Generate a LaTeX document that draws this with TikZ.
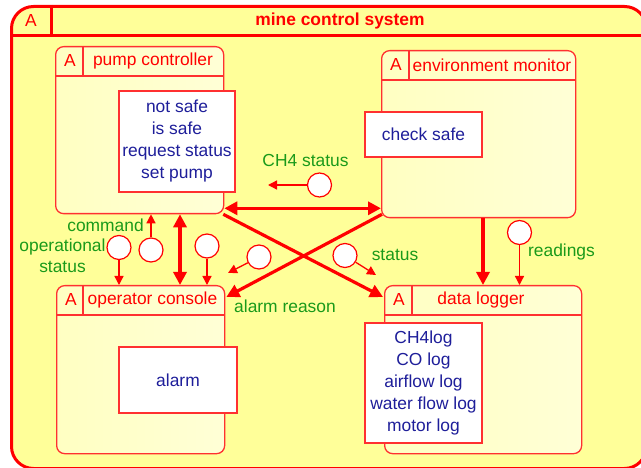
\documentclass[tikz,border=0pt]{standalone}
\usepackage{fontspec}
\setmainfont{Liberation Sans}
\usetikzlibrary{arrows.meta,calc}
\definecolor{mred}{HTML}{FF0000}
\definecolor{bred}{HTML}{FF3030}
\definecolor{outerfill}{HTML}{FFFF99}
\definecolor{innerL}{HTML}{FFFFC2}
\definecolor{innerR}{HTML}{FFFFD6}
\definecolor{tblue}{HTML}{1E1E9A}
\definecolor{tgreen}{HTML}{1A9A1A}
\begin{document}
\begin{tikzpicture}[x=1pt,y=-1pt,
  font=\fontsize{17.4}{22}\selectfont,
  sysframe/.style={draw=mred, line width=3pt, fill=outerfill, rounded corners=22pt, anchor=north west, inner sep=0pt},
  statebox/.style={draw=bred, line width=1.3pt, rounded corners=8pt, left color=innerL, right color=innerR, anchor=north west, inner sep=0pt},
  boxline/.style={draw=bred, line width=1.3pt},
  sysline/.style={draw=mred, line width=3pt},
  titletext/.style={text=mred, inner sep=0pt},
  actbox/.style={draw=bred, line width=1.3pt, fill=white, inner sep=0pt, align=center, text=tblue},
  thickarr/.style={draw=mred, line width=3.2pt},
  thinarr/.style={draw=mred, line width=1.3pt, -{Triangle[length=9pt,width=9pt]}},
  token/.style={circle, draw=mred, line width=1.2pt, fill=white, minimum size=24pt, inner sep=0pt},
  lbl/.style={text=tgreen, inner sep=0pt, align=center, font=\fontsize{17.4}{21}\selectfont}
]
\useasboundingbox (0,0) rectangle (641,468);
\clip (0,0) rectangle (641,468);

% outer frame
\node[sysframe, minimum width=635pt, minimum height=462pt] (sys) at (10,5) {};
\draw[sysline] ($(sys.north west)+(0,31)$) -- ($(sys.north east)+(0,31)$);
\draw[sysline] ($(sys.north west)+(41,0)$) -- ($(sys.north west)+(41,31)$);
\node[titletext] (sysa) at (31,21) {A};
\node[titletext, font=\fontsize{17.4}{22}\selectfont\bfseries] (syst) at (340,21) {mine control system};

% pump controller
\node[statebox, minimum width=168pt, minimum height=167pt] (pc) at (55,46) {};
\draw[boxline] ($(pc.north west)+(0,30)$) -- ($(pc.north east)+(0,30)$);
\draw[boxline] ($(pc.north west)+(28,0)$) -- ($(pc.north west)+(28,30)$);
\node[titletext] (pca) at (70,61) {A};
\node[titletext] (pct) at (153,61) {pump controller};
\node[actbox, minimum width=116pt, minimum height=101pt] (pcin) at (177,141.5) {not safe\\is safe\\request status\\set pump};

% environment monitor
\node[statebox, minimum width=194pt, minimum height=167pt] (em) at (381,50) {};
\draw[boxline] ($(em.north west)+(0,30)$) -- ($(em.north east)+(0,30)$);
\draw[boxline] ($(em.north west)+(28,0)$) -- ($(em.north west)+(28,30)$);
\node[titletext] (ema) at (396,65) {A};
\node[titletext] (emt) at (492,65) {environment monitor};
\node[actbox, minimum width=117pt, minimum height=45pt] (emin) at (423.5,134.5) {check safe};

% operator console
\node[statebox, minimum width=168pt, minimum height=168pt] (oc) at (56,285) {};
\draw[boxline] ($(oc.north west)+(0,30)$) -- ($(oc.north east)+(0,30)$);
\draw[boxline] ($(oc.north west)+(27,0)$) -- ($(oc.north west)+(27,30)$);
\node[titletext] (oca) at (71,300) {A};
\node[titletext] (oct) at (152.5,300) {operator console};
\node[actbox, minimum width=118pt, minimum height=66pt] (ocin) at (178,380) {alarm};

% data logger
\node[statebox, minimum width=197pt, minimum height=168pt] (dl) at (384,285) {};
\draw[boxline] ($(dl.north west)+(0,30)$) -- ($(dl.north east)+(0,30)$);
\draw[boxline] ($(dl.north west)+(28,0)$) -- ($(dl.north west)+(28,30)$);
\node[titletext] (dla) at (399,300) {A};
\node[titletext] (dlt) at (481,300) {data logger};
\node[actbox, minimum width=117pt, minimum height=120pt] (dlin) at (423.5,383) {CH4log\\CO log\\airflow log\\water flow log\\motor log};

% thick connectors
\draw[thickarr, {Triangle[length=13pt,width=13pt]}-{Triangle[length=13pt,width=13pt]}]
  ($(pc.south east)+(0,-6)$) -- ($(em.south west)+(0,-10)$);
\draw[thickarr, {Triangle[length=13pt,width=13pt]}-{Triangle[length=13pt,width=13pt]}]
  ($(pc.south west)+(125,0)$) -- ($(oc.north west)+(124,0)$);
\draw[thickarr, -{Triangle[length=13pt,width=13pt]}]
  ($(pc.south east)+(-1,0)$) -- ($(dl.north west)+(-1,12)$);
\draw[thickarr, -{Triangle[length=13pt,width=13pt]}]
  ($(em.south west)+(1,-4)$) -- ($(oc.north east)+(1,12)$);
\draw[thickarr, -{Triangle[length=13pt,width=13pt]}]
  ($(em.south west)+(102,0)$) -- ($(dl.north west)+(99,0)$);

% flow tokens
\node[token] (c1) at (319.5,185) {};
\node[token] (c2) at (151,250) {};
\node[token] (c3) at (119,247.5) {};
\node[token] (c4) at (207,246) {};
\node[token] (c5) at (259,257) {};
\node[token] (c6) at (345,255.5) {};
\node[token] (c7) at (519.5,232.5) {};
\coordinate (e1) at (268,185);
\coordinate (e5) at (228,273);
\coordinate (e6) at (376,275);

\draw[thinarr] (c1.west) -- (e1);
\draw[thinarr] (c2.north) -- (c2.north |- pc.south);
\draw[thinarr] (c3.south) -- (c3.south |- oc.north);
\draw[thinarr] (c4.south) -- (c4.south |- oc.north);
\draw[thinarr] (c5) -- (e5);
\draw[thinarr] (c6) -- (e6);
\draw[thinarr] (c7.south) -- (c7.south |- dl.north);

% labels
\node[lbl] (l1) at (305.5,161) {CH4 status};
\node[lbl] (l2) at (105.5,225) {command};
\node[lbl] (l3) at (62.5,256) {operational\\status};
\node[lbl] (l4) at (285,306) {alarm reason};
\node[lbl] (l5) at (395,255) {status};
\node[lbl] (l6) at (561.5,252) {readings};
\end{tikzpicture}
\end{document}
